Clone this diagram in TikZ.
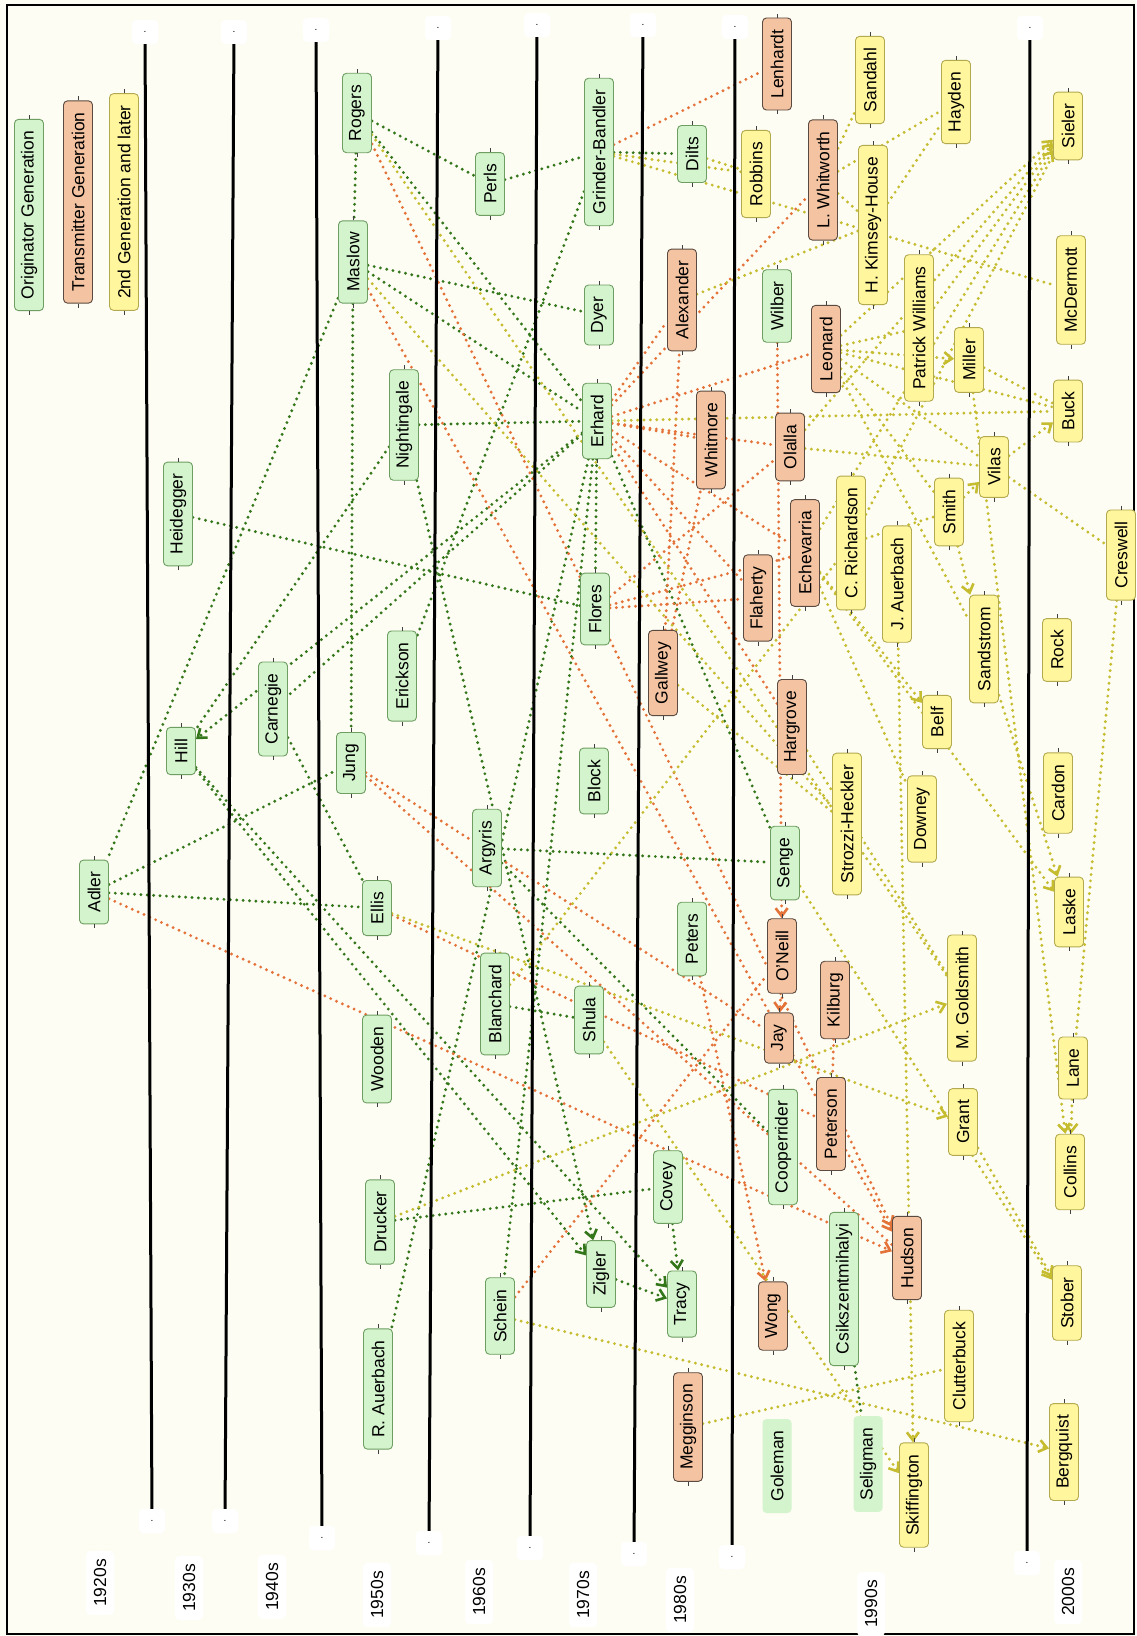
\documentclass[tikz,border=0pt]{standalone}
\usepackage{fontspec}
\setmainfont{Liberation Sans}
\usetikzlibrary{arrows.meta}
\definecolor{bgc}{HTML}{FDFDF4}
\definecolor{gfill}{HTML}{D3F4CC}
\definecolor{gdraw}{HTML}{6E9E62}
\definecolor{ofill}{HTML}{F4C4A2}
\definecolor{odraw}{HTML}{5A4A40}
\definecolor{yfill}{HTML}{FFF69E}
\definecolor{ydraw}{HTML}{B3A94E}
\definecolor{gline}{HTML}{34761A}
\definecolor{oline}{HTML}{E4733A}
\definecolor{yline}{HTML}{C6BC30}
\pgfdeclarelayer{bg}\pgfdeclarelayer{edges}\pgfsetlayers{bg,edges,main}
\begin{document}
\begin{tikzpicture}[x=1pt,y=-1pt,
 box/.style={rounded corners=4pt, rotate=90, minimum height=29pt, inner xsep=11.5pt, inner ysep=0pt, font=\fontsize{17.5}{20}\selectfont, line width=0.9pt},
 gn/.style={box, fill=gfill, draw=gdraw},
 on/.style={box, fill=ofill, draw=odraw},
 yn/.style={box, fill=yfill, draw=ydraw},
 pn/.style={box, fill=gfill},
 dec/.style={rotate=90, fill=white, rounded corners=4pt, minimum height=28pt, inner xsep=8pt, font=\fontsize{17.5}{20}\selectfont},
 dotbox/.style={fill=white, rounded corners=4pt, minimum width=26pt, minimum height=24pt, inner sep=0pt, font=\fontsize{10}{10}\selectfont},
 eline/.style={line width=3.2pt, dash pattern=on 0pt off 6.4pt, line cap=round},
 ge/.style={eline, draw=gline},
 oe/.style={eline, draw=oline},
 ye/.style={eline, draw=yline},
 tip/.style={-{Straight Barb[length=8pt,width=12pt,line width=2.6pt]}},
 sepline/.style={line width=3pt, draw=black}
]
\begin{pgfonlayer}{bg}
\fill[bgc] (0,0) rectangle (1136,1636);
\draw[line width=1.6pt] (7,5) rectangle (1134,1634);
\end{pgfonlayer}

% legend
\node[gn] (orig) at (29,215) {Originator Generation};
\node[on] (trans) at (78,202) {Transmitter Generation};
\node[yn] (second) at (124,202) {2nd Generation and later};

% decade separators
\node[dotbox] (dt1) at (145,32) {.};   \node[dotbox] (db1) at (152,1521) {.};
\node[dotbox] (dt2) at (234,32) {.};   \node[dotbox] (db2) at (225,1521) {.};
\node[dotbox] (dt3) at (316,30) {.};   \node[dotbox] (db3) at (322,1538) {.};
\node[dotbox] (dt4) at (438,28) {.};   \node[dotbox] (db4) at (429,1543) {.};
\node[dotbox] (dt5) at (537,25) {.};   \node[dotbox] (db5) at (530,1548) {.};
\node[dotbox] (dt6) at (643,25) {.};   \node[dotbox] (db6) at (634,1554) {.};
\node[dotbox] (dt7) at (735,27) {.};   \node[dotbox] (db7) at (732,1557) {.};
\node[dotbox] (dt8) at (1030,28) {.};  \node[dotbox] (db8) at (1027,1563) {.};
\foreach \i in {1,...,8} \draw[sepline] (dt\i) -- (db\i);

% decade labels
\node[dec] (d20) at (100,1583) {1920s};
\node[dec] (d30) at (189,1588) {1930s};
\node[dec] (d40) at (272,1587) {1940s};
\node[dec] (d50) at (377,1595) {1950s};
\node[dec] (d60) at (479,1592) {1960s};
\node[dec] (d70) at (583,1595) {1970s};
\node[dec] (d80) at (680,1600) {1980s};
\node[dec] (d90) at (871,1604) {1990s};
\node[dec] (d00) at (1068,1592) {2000s};

% people
\node[gn] (Adler) at (94,892) {Adler};
\node[gn] (Heidegger) at (178,514) {Heidegger};
\node[gn] (Hill) at (181,751) {Hill};
\node[gn] (Carnegie) at (273,709) {Carnegie};
\node[gn] (Rogers) at (357,113) {Rogers};
\node[gn] (Maslow) at (353,262) {Maslow};
\node[gn] (Jung) at (351,763) {Jung};
\node[gn] (Ellis) at (377,908) {Ellis};
\node[gn] (Wooden) at (377,1059) {Wooden};
\node[gn] (Drucker) at (380,1222) {Drucker};
\node[gn] (RAuerbach) at (378,1389) {R. Auerbach};
\node[gn] (Nightingale) at (404,425) {Nightingale};
\node[gn] (Erickson) at (402,676) {Erickson};
\node[gn] (Perls) at (490,184) {Perls};
\node[gn] (Argyris) at (487,848) {Argyris};
\node[gn] (Blanchard) at (495,1004) {Blanchard};
\node[gn] (Schein) at (500,1316) {Schein};
\node[gn] (Grinder) at (599,152) {Grinder-Bandler};
\node[gn] (Dyer) at (599,315) {Dyer};
\node[gn] (Erhard) at (597,421) {Erhard};
\node[gn] (Flores) at (595,609) {Flores};
\node[gn] (Block) at (594,781) {Block};
\node[gn] (Shula) at (589,1020) {Shula};
\node[gn] (Zigler) at (601,1274) {Zigler};
\node[on] (Gallwey) at (663,673) {Gallwey};
\node[on] (Alexander) at (682,300) {Alexander};
\node[on] (Whitmore) at (711,440) {Whitmore};
\node[gn] (Dilts) at (692,154) {Dilts};
\node[gn] (Peters) at (692,939) {Peters};
\node[gn] (Covey) at (668,1187) {Covey};
\node[gn] (Tracy) at (682,1304) {Tracy};
\node[on] (Megginson) at (688,1427) {Megginson};
\node[yn] (Robbins) at (756,174) {Robbins};
\node[on] (Lenhardt) at (777,64) {Lenhardt};
\node[gn] (Wilber) at (777,306) {Wilber};
\node[on] (Olalla) at (790,447) {Olalla};
\node[on] (Flaherty) at (758,598) {Flaherty};
\node[on] (Echevarria) at (805,553) {Echevarria};
\node[on] (Hargrove) at (792,727) {Hargrove};
\node[gn] (Senge) at (785,863) {Senge};
\node[on] (ONeill) at (782,956) {O'Neill};
\node[on] (Jay) at (779,1038) {Jay};
\node[gn] (Cooperrider) at (783,1147) {Cooperrider};
\node[on] (Wong) at (773,1316) {Wong};
\node[pn] (Goleman) at (777,1466) {Goleman};
\node[on] (Whitworth) at (823,180) {L. Whitworth};
\node[on] (Leonard) at (826,349) {Leonard};
\node[yn] (CRichardson) at (851,543) {C. Richardson};
\node[yn] (Strozzi) at (847,824) {Strozzi-Heckler};
\node[on] (Kilburg) at (835,1000) {Kilburg};
\node[on] (Peterson) at (831,1124) {Peterson};
\node[gn] (Csik) at (844,1289) {Csikszentmihalyi};
\node[pn] (Seligman) at (868,1464) {Seligman};
\node[yn] (Sandahl) at (870,80) {Sandahl};
\node[yn] (Kimsey) at (873,225) {H. Kimsey-House};
\node[yn] (JAuerbach) at (897,584) {J. Auerbach};
\node[yn] (Belf) at (937,722) {Belf};
\node[yn] (Downey) at (922,819) {Downey};
\node[on] (Hudson) at (907,1258) {Hudson};
\node[yn] (Skiffington) at (914,1495) {Skiffington};
\node[yn] (PWilliams) at (919,328) {Patrick Williams};
\node[yn] (Hayden) at (956,102) {Hayden};
\node[yn] (Miller) at (969,360) {Miller};
\node[yn] (Smith) at (949,512) {Smith};
\node[yn] (Sandstrom) at (984,649) {Sandstrom};
\node[yn] (Vilas) at (994,467) {Vilas};
\node[yn] (Goldsmith) at (962,998) {M. Goldsmith};
\node[yn] (Grant) at (963,1122) {Grant};
\node[yn] (Clutterbuck) at (959,1366) {Clutterbuck};
\node[yn] (Sieler) at (1068,126) {Sieler};
\node[yn] (McDermott) at (1071,290) {McDermott};
\node[yn] (Buck) at (1068,411) {Buck};
\node[yn] (Creswell) at (1121,555) {Creswell};
\node[yn] (Rock) at (1057,650) {Rock};
\node[yn] (Cardon) at (1058,793) {Cardon};
\node[yn] (Laske) at (1069,912) {Laske};
\node[yn] (Lane) at (1073,1068) {Lane};
\node[yn] (Collins) at (1070,1172) {Collins};
\node[yn] (Stober) at (1067,1303) {Stober};
\node[yn] (Bergquist) at (1064,1452) {Bergquist};

% port ticks
\foreach \n in {orig,trans,second,Adler,Heidegger,Hill,Carnegie,Rogers,Maslow,Jung,Ellis,Wooden,Drucker,RAuerbach,Nightingale,Erickson,Perls,Argyris,Blanchard,Schein,Grinder,Dyer,Erhard,Flores,Block,Shula,Zigler,Gallwey,Alexander,Whitmore,Dilts,Peters,Covey,Tracy,Megginson,Robbins,Lenhardt,Wilber,Olalla,Flaherty,Echevarria,Hargrove,Senge,ONeill,Jay,Cooperrider,Wong,Whitworth,Leonard,CRichardson,Strozzi,Kilburg,Peterson,Csik,Sandahl,Kimsey,JAuerbach,Belf,Downey,Hudson,Skiffington,PWilliams,Hayden,Miller,Smith,Sandstrom,Vilas,Goldsmith,Grant,Clutterbuck,Sieler,McDermott,Buck,Creswell,Rock,Cardon,Laske,Lane,Collins,Stober,Bergquist}
  \draw[line width=0.6pt, black!75] (\n.east) -- ++(0,-4) (\n.west) -- ++(0,4);

\begin{pgfonlayer}{edges}
% green
\draw[ge] (Rogers) -- (Maslow);
\draw[ge] (Rogers) -- (Perls);
\draw[ge] (Rogers) -- (Erhard);
\draw[ge] (Perls) -- (Grinder);
\draw[ge] (Grinder) -- (Dilts);
\draw[ge] (Grinder) -- (Erickson);
\draw[ge] (Maslow) -- (Dyer);
\draw[ge] (Maslow) -- (Erhard);
\draw[ge] (Maslow) -- (Adler);
\draw[ge] (Maslow) -- (Jung);
\draw[ge] (Adler) -- (Jung);
\draw[ge] (Adler) -- (Ellis);
\draw[ge] (Heidegger) -- (Flores);
\draw[ge] (Nightingale) -- (Erhard);
\draw[ge] (Nightingale) -- (Hill);
\draw[ge] (Erhard) -- (Carnegie);
\draw[ge,tip] (Erhard) -- (Hill);
\draw[ge] (Erhard) -- (Flores);
\draw[ge] (Erhard) -- (Senge);
\draw[ge] (Erhard) -- (Schein);
\draw[ge] (Erhard) -- (RAuerbach);
\draw[ge] (Argyris) -- (Senge);
\draw[ge] (Argyris) -- (Cooperrider);
\draw[ge] (Carnegie) -- (Ellis);
\draw[ge,tip] (Hill) -- (Zigler);
\draw[ge,tip] (Hill) -- (Tracy);
\draw[ge,tip] (Nightingale) -- (Zigler);
\draw[ge,tip] (Zigler) -- (Tracy);
\draw[ge,tip] (Covey) -- (Tracy);
\draw[ge] (Drucker) -- (Covey);
\draw[ge] (Blanchard) -- (Shula);
\draw[ge] (Csik) -- (Seligman);
% orange
\draw[oe] (Grinder) -- (Lenhardt);
\draw[oe] (Erhard) -- (Alexander);
\draw[oe] (Erhard) -- (Whitmore);
\draw[oe] (Erhard) -- (Olalla);
\draw[oe] (Erhard) -- (Leonard);
\draw[oe] (Erhard) -- (Whitworth);
\draw[oe] (Erhard) -- (Flaherty);
\draw[oe] (Erhard) -- (Hargrove);
\draw[oe] (Erhard) -- (Echevarria);
\draw[oe] (Flores) -- (Olalla);
\draw[oe] (Flores) -- (Echevarria);
\draw[oe] (Flores) -- (Flaherty);
\draw[oe] (Gallwey) -- (Alexander);
\draw[oe] (Gallwey) -- (Whitmore);
\draw[oe,tip] (Wilber) -- (ONeill);
\draw[oe,tip] (ONeill) -- (Jay);
\draw[oe,tip] (Rogers) -- (Hudson);
\draw[oe] (Jung) -- (Jay);
\draw[oe] (Jung) -- (Hudson);
\draw[oe] (Maslow) -- (Peterson);
\draw[oe] (Ellis) -- (Peterson);
\draw[oe] (Kilburg) -- (Peterson);
\draw[oe,tip] (Peterson) -- (Hudson);
\draw[oe,tip] (Adler) -- (Hudson);
\draw[oe,tip] (Peters) -- (Wong);
\draw[oe] (Schein) -- (ONeill);
% yellow
\draw[ye] (Grinder) -- (Robbins);
\draw[ye] (Dilts) -- (Robbins);
\draw[ye] (Grinder) -- (McDermott);
\draw[ye] (Whitworth) -- (Sandahl);
\draw[ye] (Whitworth) -- (Hayden);
\draw[ye] (Whitworth) -- (Kimsey);
\draw[ye] (Kimsey) -- (Hayden);
\draw[ye] (Alexander) -- (Kimsey);
\draw[ye] (Erhard) -- (Buck);
\draw[ye,tip] (Leonard) -- (Sieler);
\draw[ye] (Leonard) -- (PWilliams);
\draw[ye,tip] (Leonard) -- (Miller);
\draw[ye] (Leonard) -- (Buck);
\draw[ye] (Leonard) -- (Vilas);
\draw[ye] (Leonard) -- (Smith);
\draw[ye] (Leonard) -- (Sandstrom);
\draw[ye,tip] (Olalla) -- (Sieler);
\draw[ye] (Olalla) -- (Vilas);
\draw[ye,tip] (Echevarria) -- (Sieler);
\draw[ye,tip] (Echevarria) -- (Belf);
\draw[ye,tip] (Echevarria) -- (Laske);
\draw[ye] (Echevarria) -- (Downey);
\draw[ye] (PWilliams) -- (Sieler);
\draw[ye] (CRichardson) -- (Sieler);
\draw[ye] (CRichardson) -- (Smith);
\draw[ye] (Blanchard) -- (CRichardson);
\draw[ye] (Miller) -- (Buck);
\draw[ye,tip] (Miller) -- (Collins);
\draw[ye,tip] (Vilas) -- (Buck);
\draw[ye,tip] (Smith) -- (Vilas);
\draw[ye,tip] (Smith) -- (Sandstrom);
\draw[ye] (Vilas) -- (Creswell);
\draw[ye] (Creswell) -- (Lane);
\draw[ye,tip] (Lane) -- (Collins);
\draw[ye,tip] (Sandstrom) -- (Laske);
\draw[ye,tip] (JAuerbach) -- (Skiffington);
\draw[ye,tip] (Shula) -- (Skiffington);
\draw[ye,tip] (Drucker) -- (Goldsmith);
\draw[ye] (Rogers) -- (Goldsmith);
\draw[ye] (Hargrove) -- (Goldsmith);
\draw[ye,tip] (Ellis) -- (Grant);
\draw[ye,tip] (Senge) -- (Stober);
\draw[ye,tip] (Grant) -- (Stober);
\draw[ye,tip] (Schein) -- (Bergquist);
\draw[ye] (Megginson) -- (Clutterbuck);
\draw[ye] (Gallwey) -- (Strozzi);
\draw[ye] (Maslow) -- (Strozzi);
\end{pgfonlayer}
\end{tikzpicture}
\end{document}
